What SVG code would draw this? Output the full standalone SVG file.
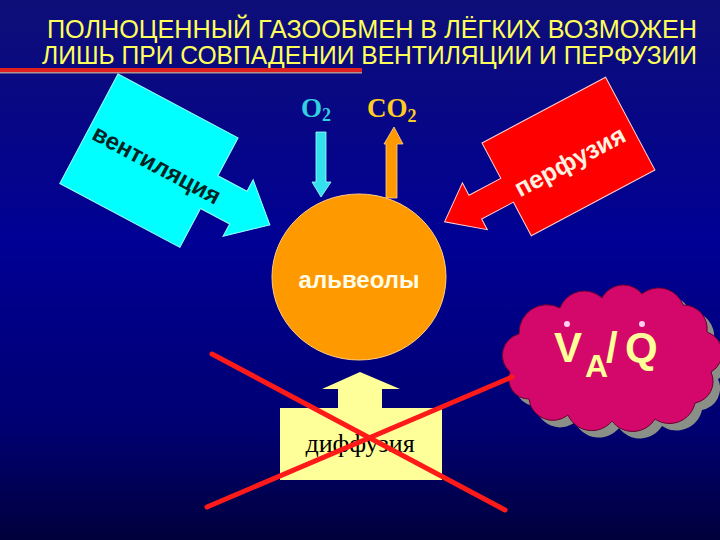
<svg xmlns="http://www.w3.org/2000/svg" width="720" height="540" viewBox="0 0 720 540">
<defs>
<linearGradient id="bg" x1="0" y1="0" x2="0" y2="1">
<stop offset="0" stop-color="#0e0e78"/>
<stop offset="0.45" stop-color="#000094"/>
<stop offset="0.8" stop-color="#000070"/>
<stop offset="1" stop-color="#00003c"/>
</linearGradient>
<path id="cloudShape" d="M510,372 A22,22 0 0 1 519,334 A28,28 0 0 1 560,308 A26,26 0 0 1 602,298 A24,24 0 0 1 642,294 A26,26 0 0 1 683,305 A24,24 0 0 1 707,332 A22,22 0 0 1 711,372 A22,22 0 0 1 695,403 A26,26 0 0 1 655,419 A26,26 0 0 1 612,421 A26,26 0 0 1 568,415 A24,24 0 0 1 529,399 A20,20 0 0 1 510,372 Z"/>
</defs>
<style>
.title{font-family:"Liberation Sans","DejaVu Sans",sans-serif;font-size:25px;fill:#ffff5a}
.bold{font-family:"Liberation Sans","DejaVu Sans",sans-serif;font-weight:bold}
.serif{font-family:"Liberation Serif","DejaVu Serif",serif;font-weight:bold}
.xline{stroke:#ff1a1a;stroke-width:5;stroke-linecap:round}
</style>
<rect width="720" height="540" fill="url(#bg)"/>

<g id="title">
<text class="title" x="47" y="38" textLength="650" lengthAdjust="spacingAndGlyphs">ПОЛНОЦЕННЫЙ ГАЗООБМЕН В ЛЁГКИХ ВОЗМОЖЕН</text>
<text class="title" x="42" y="64" textLength="655" lengthAdjust="spacingAndGlyphs">ЛИШЬ ПРИ СОВПАДЕНИИ ВЕНТИЛЯЦИИ И ПЕРФУЗИИ</text>
<rect x="0" y="68" width="362" height="4" fill="#e02020"/>
<rect x="0" y="72" width="362" height="1.5" fill="#b09090"/>
</g>

<g id="ventilation" transform="translate(118,74) rotate(28)">
<path d="M0,0 L136,0 L136,43 L169,43 L169,30 L205,62 L169,94 L169,80 L136,80 L136,124 L0,124 Z" fill="#00ffff" stroke="#99ffff" stroke-width="1"/>
<text class="bold" x="6" y="70" font-size="24" fill="#002424">вентиляция</text>
</g>

<g id="perfusion" transform="translate(482,143) rotate(-28)">
<path d="M0,0 L140,0 L140,105 L0,105 L0,67 L-36,67 L-36,79 L-70,52 L-36,26 L-36,40 L0,40 Z" fill="#ff0000" stroke="#ffd0d0" stroke-width="1"/>
<text class="bold" x="8" y="66" font-size="25" fill="#fff0e0">перфузия</text>
</g>

<g id="o2">
<text class="serif" x="301" y="117" font-size="27" fill="#33d0e0">O<tspan font-size="18" dy="4">2</tspan></text>
</g>
<g id="co2">
<text class="serif" x="367" y="117" font-size="27" fill="#ffcc22">CO<tspan font-size="18" dy="5">2</tspan></text>
</g>

<g id="connectors">
<path d="M316,132 L326,132 L326,182 L331,182 L321,197 L312,182 L316,182 Z" fill="#33e0ee" stroke="#aaffff" stroke-width="0.8"/>
<path d="M386,198 L386,144 L384,144 L394,127 L403,144 L397,144 L397,198 Z" fill="#ff9900" stroke="#ffd090" stroke-width="0.8"/>
</g>

<g id="alveoli">
<ellipse cx="359" cy="277" rx="87" ry="83" fill="#ff9900" stroke="#ffcc80" stroke-width="1"/>
<text class="bold" x="359" y="288" font-size="24" fill="#fffce8" text-anchor="middle">альвеолы</text>
</g>

<g id="diffusion">
<path d="M280,408 L338,408 L338,389 L322,389 L360,372 L400,389 L382,389 L382,408 L442,408 L442,480 L280,480 Z" fill="#ffff99"/>
<text x="360" y="452" font-family="Liberation Serif, DejaVu Serif, serif" font-size="26" fill="#000000" text-anchor="middle">диффузия</text>
</g>

<g id="cloud">
<use href="#cloudShape" transform="translate(7,7)" fill="#8a9088"/>
<use href="#cloudShape" fill="#d4086a" stroke="#6a0030" stroke-width="1"/>
<text class="bold" font-size="42" fill="#ffff99"><tspan x="554" y="362">V</tspan><tspan x="585" y="377" font-size="32">A</tspan><tspan x="606" y="362">/</tspan><tspan x="625" y="362">Q</tspan></text>
<circle cx="567" cy="324" r="3" fill="#ffd0ee"/>
<circle cx="642" cy="324" r="3" fill="#ffd0ee"/>
</g>

<g id="cross">
<line class="xline" x1="212" y1="354" x2="505" y2="510"/>
<line class="xline" x1="207" y1="507" x2="512" y2="377"/>
</g>
</svg>
